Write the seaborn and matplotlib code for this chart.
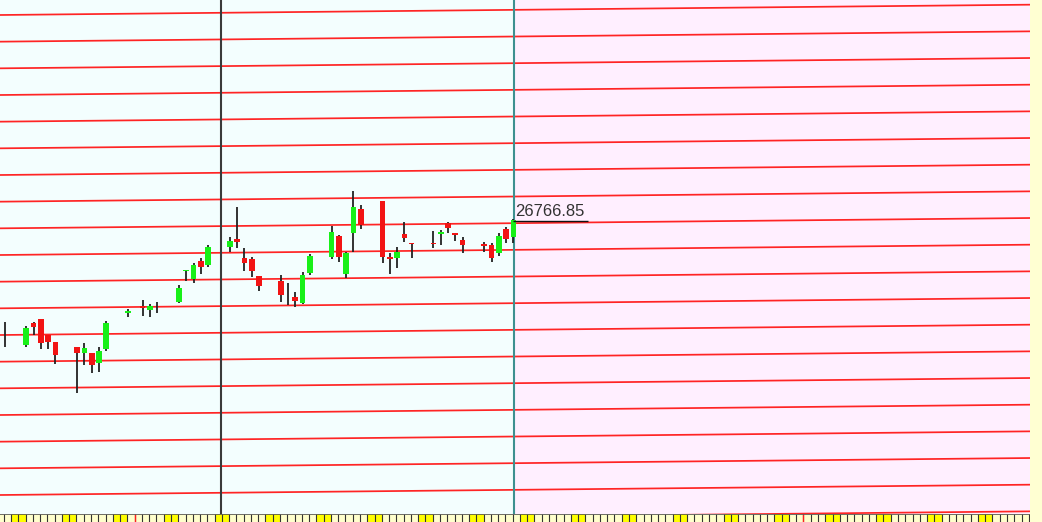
import numpy as np
import pandas as pd
import matplotlib
matplotlib.use("Agg")
import matplotlib.pyplot as plt
import seaborn as sns

# ---------------- data ----------------
days = [-1, 0, 3, 4, 5, 6, 7, 10, 11, 12, 13, 14, 17, 19, 20, 21, 24, 25, 26, 27, 28,
        31, 32, 33, 34, 35, 38, 39, 40, 41, 42, 45, 46, 47, 48, 49, 52, 53, 54, 55, 56,
        59, 60, 61, 62, 63, 66, 67, 68, 69, 70]
opens = [26294, 26336, 26298, 26381, 26396, 26336, 26309, 26291, 26268, 26268, 26231, 26283,
         26418, 26444, 26429, 26441, 26459, 26576, 26546, 26613, 26598,
         26666, 26696, 26624, 26621, 26557, 26538, 26493, 26478, 26456, 26568,
         26628, 26707, 26564, 26718, 26808, 26838, 26628, 26624, 26714, 26681,
         26681, 26714, 26756, 26718, 26692, 26677, 26673, 26643, 26733, 26703]
highs = [26336, 26384, 26369, 26384, 26396, 26336, 26309, 26291, 26306, 26268, 26291, 26388,
         26433, 26467, 26452, 26459, 26523, 26579, 26606, 26624, 26673,
         26703, 26816, 26662, 26628, 26557, 26561, 26531, 26497, 26572, 26639,
         26744, 26711, 26647, 26876, 26823, 26838, 26643, 26666, 26759, 26681,
         26726, 26729, 26759, 26718, 26703, 26684, 26681, 26718, 26741, 26771]
lows = [26287, 26291, 26291, 26336, 26283, 26283, 26227, 26118, 26223, 26193, 26197, 26276,
        26403, 26407, 26403, 26418, 26456, 26538, 26531, 26564, 26591,
        26647, 26662, 26576, 26553, 26501, 26459, 26448, 26441, 26452, 26561,
        26621, 26609, 26549, 26647, 26733, 26606, 26564, 26587, 26684, 26624,
        26662, 26673, 26718, 26688, 26643, 26647, 26609, 26632, 26681, 26681]
closes = [26328, 26336, 26362, 26366, 26306, 26309, 26261, 26268, 26287, 26223, 26276, 26381,
          26426, 26437, 26444, 26441, 26512, 26579, 26598, 26591, 26666,
          26688, 26684, 26606, 26576, 26519, 26486, 26493, 26463, 26561, 26632,
          26722, 26628, 26643, 26816, 26748, 26628, 26621, 26647, 26699, 26677,
          26677, 26722, 26737, 26711, 26673, 26669, 26624, 26707, 26696, 26766.85]

# slanted level lines: price at the left edge and at the right edge of the chart
gann_start = [27635.6, 27535.6, 27435.6, 27335.6, 27235.6, 27135.6, 27035.6, 26935.6,
              26835.6, 26735.6, 26635.6, 26535.6, 26435.6, 26335.6, 26235.6, 26135.6,
              26035.6, 25935.6, 25835.6, 25735.6, 25635.6]
gann_end = [27674.3, 27574.3, 27474.3, 27374.3, 27274.3, 27174.3, 27074.3, 26974.3,
            26874.3, 26774.3, 26674.3, 26574.3, 26474.3, 26374.3, 26274.3, 26174.3,
            26074.3, 25974.3, 25874.3, 25774.3, 25674.3]

last_price_label = "26766.85"
marker_day = 29.8          # black vertical marker
today_day = 70.05          # teal vertical marker / start of future zone
month_ticks = [17.9, 109.8]

# ---------------- layout ----------------
X_LEFT, X_RIGHT = -0.62, 141.06
Y_LOW, Y_HIGH = 25664.35, 27591.85

sns.set_theme(style="white")
plt.rcParams["font.family"] = ["Liberation Sans", "DejaVu Sans"]

fig = plt.figure(figsize=(10.42, 5.22), dpi=100)
fig.patch.set_facecolor("#FFFFD2")
ax = fig.add_axes([0, 8 / 522, 1030 / 1042, 514 / 522])
axs = fig.add_axes([0, 0, 1030 / 1042, 8 / 522])

ax.set_facecolor("#F3FEFE")
ax.axvspan(today_day, X_RIGHT + 5, color="#FFEFFF", zorder=0, lw=0)

# level lines via seaborn
rows = []
for k, (a, b) in enumerate(zip(gann_start, gann_end)):
    rows.append({"day": X_LEFT, "price": a, "level": k})
    rows.append({"day": X_RIGHT, "price": b, "level": k})
gdf = pd.DataFrame(rows)
sns.lineplot(data=gdf, x="day", y="price", units="level", estimator=None,
             color="#FF2424", lw=1.25, ax=ax, zorder=2, legend=False)

# vertical markers
ax.axvline(marker_day, color="#3A3A3A", lw=1.5, zorder=3)
ax.axvline(today_day, color="#3E9090", lw=1.5, zorder=3)

# candles
df = pd.DataFrame({"day": days, "open": opens, "high": highs, "low": lows, "close": closes})
ax.vlines(df["day"], df["low"], df["high"], color="#222222", lw=1.3, zorder=4)
up = df[df["close"] > df["open"]]
dn = df[df["close"] < df["open"]]
minh = 5.0
ax.bar(up["day"], np.maximum(up["close"] - up["open"], minh), bottom=up["open"],
       width=0.78, color="#18F018", lw=0, zorder=5)
ax.bar(dn["day"], np.maximum(dn["open"] - dn["close"], minh), bottom=dn["close"],
       width=0.78, color="#F21414", lw=0, zorder=5)

# last price label
ax.text(today_day + 0.15, 26781.5, last_price_label, fontsize=12, color="#333333",
        ha="left", va="baseline", zorder=6)
ax.hlines(26764.0, today_day - 0.1, 80.3, color="#111111", lw=1.0, zorder=6)

ax.set_xlim(X_LEFT, X_RIGHT)
ax.set_ylim(Y_LOW, Y_HIGH)
ax.set_xticks([])
ax.set_yticks([])
ax.set_xlabel("")
ax.set_ylabel("")
for s in ax.spines.values():
    s.set_visible(False)

# bottom date strip
axs.set_facecolor("#FFFFCC")
axs.set_xlim(X_LEFT, X_RIGHT)
axs.set_ylim(0, 1)
off = 0.4
for d in range(-7, 150):
    if d % 7 in (1, 2):
        axs.axvspan(d - 0.5 + off, d + 0.5 + off, color="#FFFF00", lw=0, zorder=1)
cells = np.arange(-7, 150) - 0.5 + off
axs.vlines(cells, 0, 1, color="#333333", lw=0.8, zorder=2)
axs.vlines(month_ticks, 0, 1, color="#FF2020", lw=1.0, zorder=3)
axs.axhline(1, color="#555555", lw=1.2, zorder=3)
axs.set_xticks([])
axs.set_yticks([])
for s in axs.spines.values():
    s.set_visible(False)

fig.savefig("out.png", dpi=100, facecolor=fig.get_facecolor())
